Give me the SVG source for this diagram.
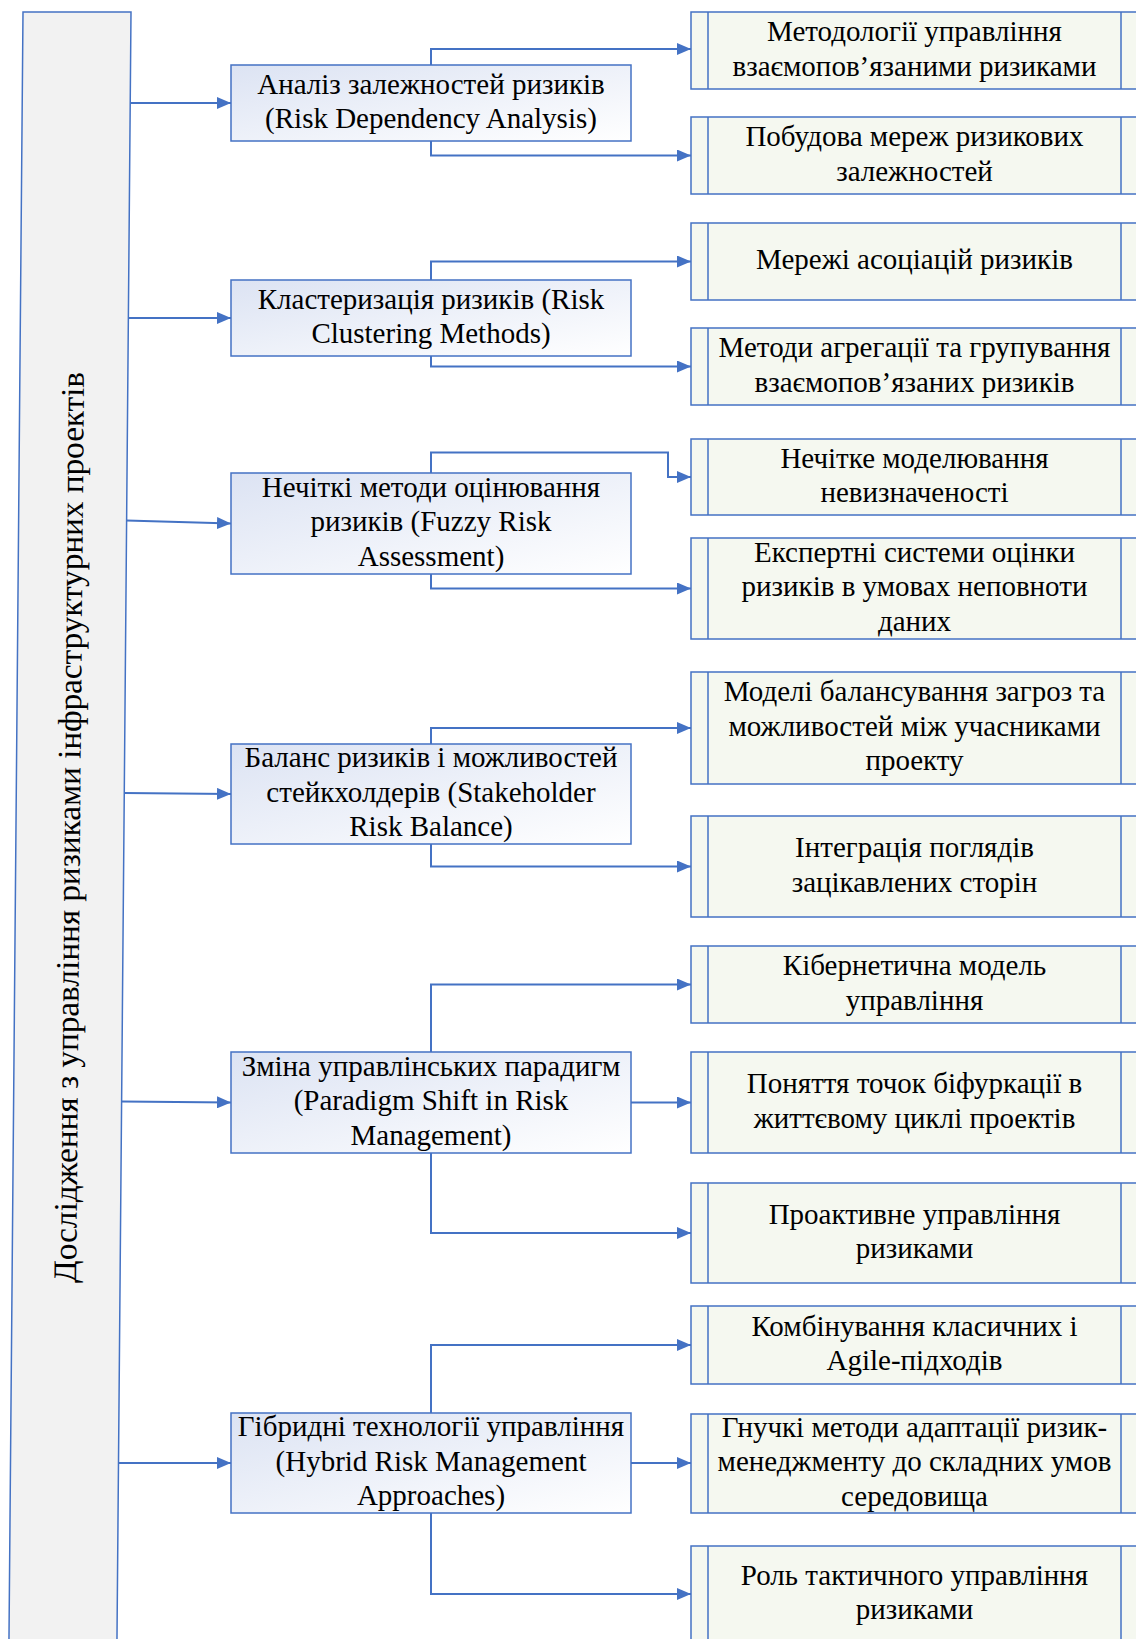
<svg xmlns="http://www.w3.org/2000/svg" width="1136" height="1639" viewBox="0 0 1136 1639">
<style>
.t{font-family:"Liberation Serif","Times New Roman",serif;font-size:29px;fill:#000;text-anchor:middle}
.mid{stroke:#4472C4;stroke-width:1.5;fill:url(#g)}
.rb{stroke:#4472C4;stroke-width:1.5;fill:#F5F8F0}
.ln{stroke:#4472C4;stroke-width:1.5;fill:none}
.c{stroke:#4472C4;stroke-width:2;fill:none;marker-end:url(#a)}
</style>
<defs>
<linearGradient id="g" x1="0" y1="0" x2="1" y2="1">
<stop offset="0" stop-color="#DCE3F3"/>
<stop offset="1" stop-color="#FFFFFF"/>
</linearGradient>
<marker id="a" markerUnits="userSpaceOnUse" markerWidth="14" markerHeight="12" refX="14" refY="6" orient="auto">
<path d="M0,0 L14,6 L0,12 z" fill="#4472C4"/>
</marker>
</defs>
<rect width="1136" height="1639" fill="#fff"/>

<g id="root">
<polygon points="23,12 131,12 116.8,1660 8.8,1660" fill="#F2F2F2" stroke="#4472C4" stroke-width="1.5"/>
<text class="t" transform="translate(80,827.5) rotate(-89.5)" style="font-size:33px" textLength="911" lengthAdjust="spacingAndGlyphs">Дослідження з управління ризиками інфраструктурних проектів</text>
</g>

<g id="connectors">
<path class="c" d="M130.2,103 H231"/>
<path class="c" d="M128.3,318 H231"/>
<path class="c" d="M126.5,520.5 L231,523.5"/>
<path class="c" d="M124.1,793 L231,794"/>
<path class="c" d="M121.4,1101.5 L231,1102.5"/>
<path class="c" d="M118.2,1463 H231"/>

<path class="c" d="M431,65 V49 H691"/>
<path class="c" d="M431,141 V155.5 H691"/>
<path class="c" d="M431,280 V261.5 H691"/>
<path class="c" d="M431,356 V366.5 H691"/>
<path class="c" d="M431,473 V452.5 H668 V477 H691"/>
<path class="c" d="M431,574 V588.5 H691"/>
<path class="c" d="M431,744 V728 H691"/>
<path class="c" d="M431,844 V866.5 H691"/>
<path class="c" d="M431,1052 V984.5 H691"/>
<path class="c" d="M631,1102.5 H691"/>
<path class="c" d="M431,1153 V1233 H691"/>
<path class="c" d="M431,1413 V1345 H691"/>
<path class="c" d="M631,1463 H691"/>
<path class="c" d="M431,1513 V1594 H691"/>
</g>

<g id="m1"><rect class="mid" x="231" y="65" width="400" height="76"/>
<text class="t" x="431" y="93.5">Аналіз залежностей ризиків</text>
<text class="t" x="431" y="127.5">(Risk Dependency Analysis)</text></g>
<g id="m2"><rect class="mid" x="231" y="280" width="400" height="76"/>
<text class="t" x="431" y="308.5">Кластеризація ризиків (Risk</text>
<text class="t" x="431" y="342.5">Clustering Methods)</text></g>
<g id="m3"><rect class="mid" x="231" y="473" width="400" height="101"/>
<text class="t" x="431" y="496.5">Нечіткі методи оцінювання</text>
<text class="t" x="431" y="531">ризиків (Fuzzy Risk</text>
<text class="t" x="431" y="565.5">Assessment)</text></g>
<g id="m4"><rect class="mid" x="231" y="744" width="400" height="100"/>
<text class="t" x="431" y="767">Баланс ризиків і можливостей</text>
<text class="t" x="431" y="801.5">стейкхолдерів (Stakeholder</text>
<text class="t" x="431" y="836">Risk Balance)</text></g>
<g id="m5"><rect class="mid" x="231" y="1052" width="400" height="101"/>
<text class="t" x="431" y="1075.5">Зміна управлінських парадигм</text>
<text class="t" x="431" y="1110">(Paradigm Shift in Risk</text>
<text class="t" x="431" y="1144.5">Management)</text></g>
<g id="m6"><rect class="mid" x="231" y="1413" width="400" height="100"/>
<text class="t" x="431" y="1436">Гібридні технології управління</text>
<text class="t" x="431" y="1470.5">(Hybrid Risk Management</text>
<text class="t" x="431" y="1505">Approaches)</text></g>

<g id="r1"><rect class="rb" x="691" y="12" width="460" height="77"/><path class="ln" d="M708,12 V89 M1121,12 V89"/>
<text class="t" x="914.5" y="41">Методології управління</text>
<text class="t" x="914.5" y="75.5">взаємопов’язаними ризиками</text></g>
<g id="r2"><rect class="rb" x="691" y="117" width="460" height="77"/><path class="ln" d="M708,117 V194 M1121,117 V194"/>
<text class="t" x="914.5" y="146">Побудова мереж ризикових</text>
<text class="t" x="914.5" y="180.5">залежностей</text></g>
<g id="r3"><rect class="rb" x="691" y="223" width="460" height="77"/><path class="ln" d="M708,223 V300 M1121,223 V300"/>
<text class="t" x="914.5" y="269">Мережі асоціацій ризиків</text></g>
<g id="r4"><rect class="rb" x="691" y="328" width="460" height="77"/><path class="ln" d="M708,328 V405 M1121,328 V405"/>
<text class="t" x="914.5" y="357">Методи агрегації та групування</text>
<text class="t" x="914.5" y="391.5">взаємопов’язаних ризиків</text></g>
<g id="r5"><rect class="rb" x="691" y="439" width="460" height="76"/><path class="ln" d="M708,439 V515 M1121,439 V515"/>
<text class="t" x="914.5" y="467.5">Нечітке моделювання</text>
<text class="t" x="914.5" y="502">невизначеності</text></g>
<g id="r6"><rect class="rb" x="691" y="538" width="460" height="101"/><path class="ln" d="M708,538 V639 M1121,538 V639"/>
<text class="t" x="914.5" y="561.5">Експертні системи оцінки</text>
<text class="t" x="914.5" y="596">ризиків в умовах неповноти</text>
<text class="t" x="914.5" y="630.5">даних</text></g>
<g id="r7"><rect class="rb" x="691" y="672" width="460" height="112"/><path class="ln" d="M708,672 V784 M1121,672 V784"/>
<text class="t" x="914.5" y="701">Моделі балансування загроз та</text>
<text class="t" x="914.5" y="735.5">можливостей між учасниками</text>
<text class="t" x="914.5" y="770">проекту</text></g>
<g id="r8"><rect class="rb" x="691" y="816" width="460" height="101"/><path class="ln" d="M708,816 V917 M1121,816 V917"/>
<text class="t" x="914.5" y="857">Інтеграція поглядів</text>
<text class="t" x="914.5" y="891.5">зацікавлених сторін</text></g>
<g id="r9"><rect class="rb" x="691" y="946" width="460" height="77"/><path class="ln" d="M708,946 V1023 M1121,946 V1023"/>
<text class="t" x="914.5" y="975">Кібернетична модель</text>
<text class="t" x="914.5" y="1009.5">управління</text></g>
<g id="r10"><rect class="rb" x="691" y="1052" width="460" height="101"/><path class="ln" d="M708,1052 V1153 M1121,1052 V1153"/>
<text class="t" x="914.5" y="1093">Поняття точок біфуркації в</text>
<text class="t" x="914.5" y="1127.5">життєвому циклі проектів</text></g>
<g id="r11"><rect class="rb" x="691" y="1183" width="460" height="100"/><path class="ln" d="M708,1183 V1283 M1121,1183 V1283"/>
<text class="t" x="914.5" y="1223.5">Проактивне управління</text>
<text class="t" x="914.5" y="1258">ризиками</text></g>
<g id="r12"><rect class="rb" x="691" y="1306" width="460" height="78"/><path class="ln" d="M708,1306 V1384 M1121,1306 V1384"/>
<text class="t" x="914.5" y="1335.5">Комбінування класичних і</text>
<text class="t" x="914.5" y="1370">Agile-підходів</text></g>
<g id="r13"><rect class="rb" x="691" y="1414" width="460" height="99"/><path class="ln" d="M708,1414 V1513 M1121,1414 V1513"/>
<text class="t" x="914.5" y="1436.5">Гнучкі методи адаптації ризик-</text>
<text class="t" x="914.5" y="1471">менеджменту до складних умов</text>
<text class="t" x="914.5" y="1505.5">середовища</text></g>
<g id="r14"><rect class="rb" x="691" y="1546" width="460" height="120"/><path class="ln" d="M708,1546 V1666 M1121,1546 V1666"/>
<text class="t" x="914.5" y="1584.5">Роль тактичного управління</text>
<text class="t" x="914.5" y="1619">ризиками</text></g>
</svg>
